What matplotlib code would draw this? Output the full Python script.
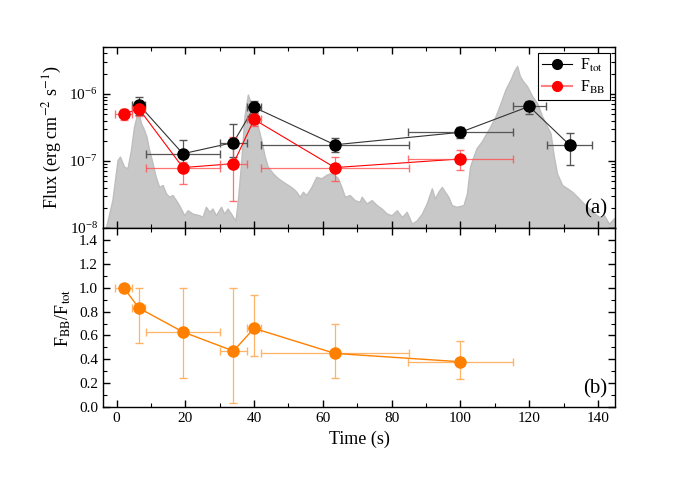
import matplotlib
matplotlib.use("Agg")
import matplotlib.pyplot as plt
from matplotlib.ticker import MultipleLocator, LogLocator, NullFormatter

plt.rcParams['font.family'] = ['Liberation Serif', 'DejaVu Serif']
plt.rcParams['mathtext.fontset'] = 'stix'

# spectral bins
t_tot = [6.5, 19.3, 34.0, 40.0, 63.5, 100.0, 120.0, 131.8]
t_tot_err = [1.9, 10.7, 4.0, 2.0, 21.5, 15.2, 4.8, 6.6]
f_tot = [6.9e-7, 1.28e-7, 1.88e-7, 6.3e-7, 1.74e-7, 2.67e-7, 6.5e-7, 1.72e-7]
f_tot_hi = [9.0e-7, 2.06e-7, 3.6e-7, 7.8e-7, 2.22e-7, 3.2e-7, 7.8e-7, 2.58e-7]
f_tot_lo = [4.8e-7, 8.2e-8, 1.15e-7, 5.1e-7, 1.36e-7, 2.2e-7, 5.0e-7, 8.6e-8]

t_bb = [2.1, 6.5, 19.3, 34.0, 40.0, 63.5, 100.0]
t_bb_err = [2.4, 1.9, 10.7, 4.0, 2.0, 21.5, 15.2]
f_bb = [4.97e-7, 6.0e-7, 7.96e-8, 9.1e-8, 4.15e-7, 7.96e-8, 1.07e-7]
f_bb_hi = [6.0e-7, 7.2e-7, 9.7e-8, 2.3e-7, 5.2e-7, 1.15e-7, 1.47e-7]
f_bb_lo = [4.05e-7, 4.6e-7, 4.6e-8, 2.5e-8, 3.3e-7, 5.1e-8, 7.3e-8]

ratio = [1.00, 0.83, 0.63, 0.47, 0.66, 0.45, 0.38]
ratio_hi = [1.00, 1.00, 1.00, 1.00, 0.94, 0.70, 0.557]
ratio_lo = [1.00, 0.54, 0.24, 0.035, 0.43, 0.246, 0.237]

# light curve (scaled to flux units)
lc_t = [-3.1, -1.2, 0.3, 1.0, 2.2, 3.2, 4.2, 5.1, 6.1, 6.4, 7.1, 8.0, 8.7, 9.5,
        10.5, 11.4, 12.4, 13.4, 14.4, 15.3, 16.3, 17.3, 18.2, 19.7, 20.7, 22.1,
        24.1, 25.0, 26.0, 27.0, 27.9, 28.9, 30.4, 31.3, 32.3, 33.3, 33.9, 34.6,
        35.3, 36.3, 37.2, 38.2, 38.9, 40.2, 41.1, 42.1, 43.1, 44.0, 45.5, 47.0,
        48.4, 49.9, 51.3, 52.3, 53.3, 54.2, 55.2, 56.7, 58.1, 59.6, 61.0, 62.0,
        63.4, 64.4, 65.4, 66.4, 67.8, 69.3, 70.7, 71.3, 72.7, 74.2, 75.7, 77.1,
        78.6, 80.0, 81.5, 83.0, 84.4, 85.9, 87.3, 88.8, 90.2, 91.7, 92.6, 93.6,
        94.6, 95.5, 96.5, 97.5, 98.9, 100.9, 101.9, 102.8, 103.8, 104.7, 106.2,
        107.2, 108.7, 110.2, 111.7, 113.1, 114.6, 115.6, 116.5, 117.3, 118.2,
        119.4, 120.9, 122.3, 123.8, 125.2, 126.2, 127.2, 128.1, 129.6, 131.1,
        132.5, 134.0, 135.4, 136.9, 138.4, 140.3, 141.8, 143.2, 144.7, 145.0]
lc_f = [1.0e-8, 2.6e-8, 1.03e-7, 1.16e-7, 8.2e-8, 7.8e-8, 1.46e-7, 3.27e-7,
        5.2e-7, 5.5e-7, 3.67e-7, 2.92e-7, 2.32e-7, 1.46e-7, 9.2e-8, 5.8e-8,
        4.1e-8, 4.37e-8, 3.28e-8, 2.92e-8, 3.1e-8, 2.6e-8, 2.19e-8, 1.55e-8,
        1.84e-8, 1.64e-8, 1.55e-8, 1.46e-8, 2.07e-8, 1.74e-8, 1.95e-8, 1.55e-8,
        2.07e-8, 1.64e-8, 1.95e-8, 1.64e-8, 1.46e-8, 1.30e-8, 2.6e-8, 1.03e-7,
        4.6e-7, 9.76e-7, 7.74e-7, 5.8e-7, 3.27e-7, 2.06e-7, 1.16e-7, 8.2e-8,
        6.5e-8, 5.5e-8, 4.9e-8, 4.37e-8, 3.9e-8, 3.47e-8, 2.92e-8, 3.47e-8,
        3.1e-8, 4.1e-8, 5.8e-8, 5.5e-8, 6.2e-8, 6.5e-8, 6.2e-8, 5.5e-8, 4.1e-8,
        2.92e-8, 3.1e-8, 2.6e-8, 2.45e-8, 2.92e-8, 2.32e-8, 2.6e-8, 2.19e-8,
        1.95e-8, 1.64e-8, 1.55e-8, 1.84e-8, 1.46e-8, 1.74e-8, 1.16e-8, 1.30e-8,
        1.64e-8, 2.32e-8, 3.9e-8, 2.75e-8, 3.47e-8, 4.1e-8, 3.47e-8, 2.92e-8,
        2.19e-8, 2.07e-8, 2.19e-8, 3.28e-8, 8.2e-8, 1.16e-7, 1.55e-7, 1.95e-7,
        2.4e-7, 3.27e-7, 4.6e-7, 7.3e-7, 1.16e-6, 1.64e-6, 2.18e-6, 2.6e-6,
        1.84e-6, 1.55e-6, 1.3e-6, 9.2e-7, 7.3e-7, 4.6e-7, 3.27e-7, 2.6e-7,
        1.16e-7, 6.5e-8, 4.37e-8, 3.9e-8, 3.47e-8, 2.92e-8, 2.45e-8, 2.07e-8,
        1.74e-8, 1.46e-8, 1.55e-8, 1.16e-8, 1.4e-8, 1.2e-8]


def asym(vals, hi, lo):
    return [[v - l for v, l in zip(vals, lo)], [h - v for v, h in zip(vals, hi)]]


fig = plt.figure(figsize=(6.85, 4.79), dpi=100)
ax1 = fig.add_axes([0.150, 0.524, 0.748, 0.378])
ax2 = fig.add_axes([0.150, 0.150, 0.748, 0.374], sharex=ax1)

ax1.fill_between(lc_t, 1e-9, lc_f, color='#c8c8c8', edgecolor='#bebebe', lw=1.0, zorder=1)

ax1.plot(t_tot, f_tot, '-', color='#333333', lw=0.8, zorder=3)
ax1.errorbar(t_tot, f_tot, xerr=t_tot_err, yerr=asym(f_tot, f_tot_hi, f_tot_lo),
             fmt='none', ecolor='#555555', elinewidth=0.9, capsize=3, zorder=3)
ax1.plot(t_tot, f_tot, 'o', color='black', ms=8, zorder=5)

ax1.plot(t_bb, f_bb, '-', color='red', lw=0.8, zorder=3)
ax1.errorbar(t_bb, f_bb, xerr=t_bb_err, yerr=asym(f_bb, f_bb_hi, f_bb_lo),
             fmt='none', ecolor='#ff5050', elinewidth=0.9, capsize=3, alpha=0.8, zorder=3)
ax1.plot(t_bb, f_bb, 'o', color='red', ms=8, zorder=6)

h1, = ax1.plot([], [], '-o', color='black', lw=0.8, ms=7)
h2, = ax1.plot([], [], '-', color='#ff8080', lw=1.5, marker='o', mfc='red', mec='red', ms=7)
leg = ax1.legend([h1, h2], [r'F$_{\rm tot}$', r'F$_{\rm BB}$'], loc='upper right',
                 fontsize=11.5, fancybox=False, edgecolor='black', framealpha=1,
                 handlelength=1.9, handletextpad=0.5, borderpad=0.25,
                 labelspacing=0.3, borderaxespad=0.35)
leg.get_frame().set_linewidth(0.8)
leg.set_zorder(10)

ax1.set_yscale('log')
ax1.set_ylim(1e-8, 5e-6)
ax1.set_xlim(-4, 145)
ax1.set_ylabel(r'Flux (erg cm$^{-2}$ s$^{-1}$)', fontsize=13)
ax1.text(0.985, 0.05, '(a)', transform=ax1.transAxes, ha='right', va='bottom', fontsize=15)
ax1.yaxis.set_major_locator(LogLocator(base=10, numticks=10))
ax1.yaxis.set_minor_locator(LogLocator(base=10, subs=range(2, 10), numticks=20))
ax1.yaxis.set_minor_formatter(NullFormatter())
plt.setp(ax1.get_xticklabels(), visible=False)

orange = '#ff8000'
ax2.errorbar(t_bb, ratio, xerr=t_bb_err, yerr=asym(ratio, ratio_hi, ratio_lo),
             fmt='none', ecolor='#ffb366', elinewidth=0.9, capsize=3, zorder=2)
ax2.plot(t_bb, ratio, '-o', color=orange, lw=1.0, ms=8, zorder=4)
ax2.set_ylim(0, 1.5)
ax2.yaxis.set_major_locator(MultipleLocator(0.2))
ax2.yaxis.set_minor_locator(MultipleLocator(0.1))
ax2.yaxis.set_major_formatter(matplotlib.ticker.FormatStrFormatter('%.1f'))
ax2.xaxis.set_major_locator(MultipleLocator(20))
ax2.xaxis.set_minor_locator(MultipleLocator(10))
ax2.set_xlabel('Time (s)', fontsize=13)
ax2.set_ylabel(r'F$_{\rm BB}$/F$_{\rm tot}$', fontsize=13)
ax2.text(0.985, 0.05, '(b)', transform=ax2.transAxes, ha='right', va='bottom', fontsize=15)

for ax in (ax1, ax2):
    ax.tick_params(which='both', direction='in', top=True, right=True, labelsize=11)
    ax.tick_params(which='major', length=5, width=1)
    ax.tick_params(which='minor', length=3, width=0.8)
    for s in ax.spines.values():
        s.set_linewidth(1.0)

fig.align_ylabels([ax1, ax2])
fig.savefig('out.png', dpi=100)
